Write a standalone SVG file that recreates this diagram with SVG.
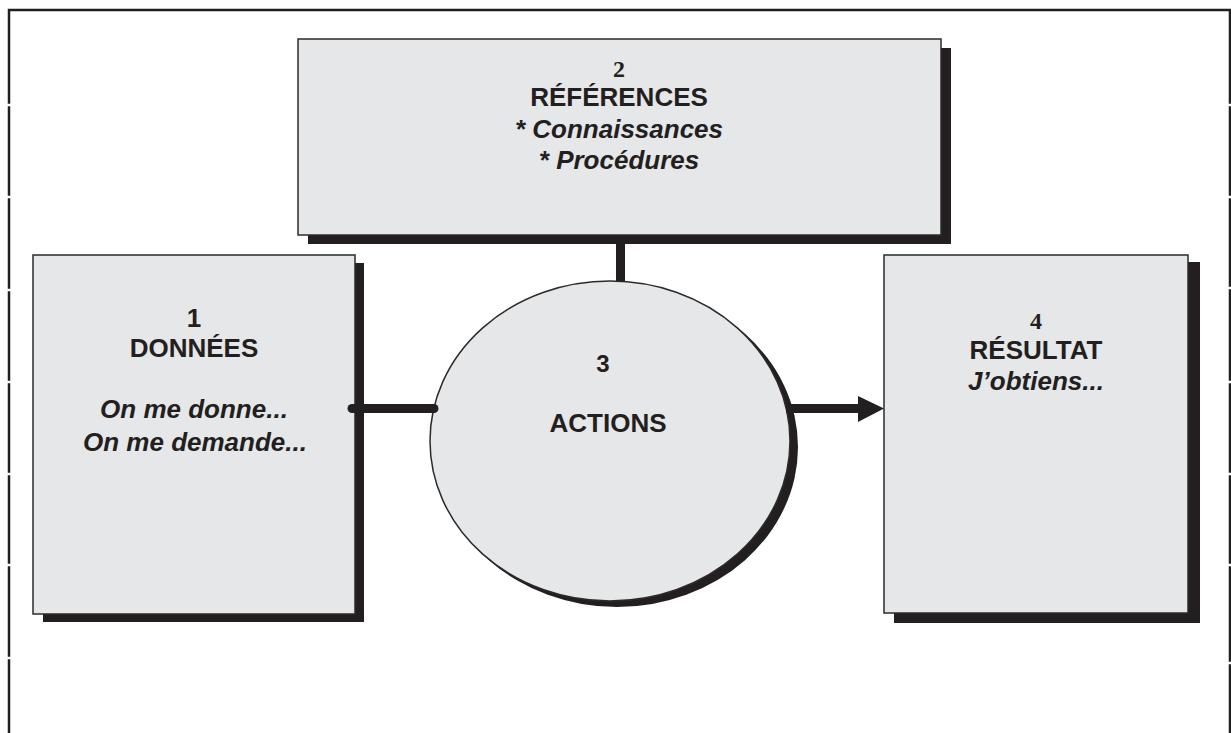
<svg xmlns="http://www.w3.org/2000/svg" width="1231" height="733" viewBox="0 0 1231 733">
<defs>
<style>
.frame{stroke:#231f20;stroke-width:2.5;fill:none}
.shadow{fill:#231f20}
.box{fill:#e6e7e9;stroke:#2b2b2b;stroke-width:1.5}
.conn{stroke:#231f20;stroke-width:9;fill:none}
.t{font-family:"Liberation Sans",Arial,sans-serif;font-weight:bold;fill:#231f20;text-anchor:middle;font-size:26px}
.i{font-style:italic}
.n{font-family:"Liberation Serif","Times New Roman",serif;font-weight:bold;fill:#231f20;text-anchor:middle;font-size:24px}
</style>
</defs>
<rect width="1231" height="733" fill="#ffffff"/>
<g id="frame">
<path class="frame" d="M9,733 V10 H1230 V733"/>
<g stroke="#ffffff" stroke-width="2.5">
<line x1="6" y1="105" x2="12" y2="105"/><line x1="6" y1="197" x2="12" y2="197"/><line x1="6" y1="290" x2="12" y2="290"/><line x1="6" y1="382" x2="12" y2="382"/><line x1="6" y1="474" x2="12" y2="474"/><line x1="6" y1="565" x2="12" y2="565"/><line x1="6" y1="658" x2="12" y2="658"/>
<line x1="1227" y1="105" x2="1231" y2="105"/><line x1="1227" y1="197" x2="1231" y2="197"/><line x1="1227" y1="288" x2="1231" y2="288"/><line x1="1227" y1="382" x2="1231" y2="382"/><line x1="1227" y1="474" x2="1231" y2="474"/><line x1="1227" y1="565" x2="1231" y2="565"/><line x1="1227" y1="663" x2="1231" y2="663"/>
</g>
</g>
<g id="node2">
<rect class="shadow" x="308" y="48" width="643" height="196"/>
<rect class="box" x="298" y="39" width="643" height="196"/>
<text class="n" x="619" y="77">2</text>
<text class="t" x="619" y="106">RÉFÉRENCES</text>
<text class="t i" x="619" y="138">* Connaissances</text>
<text class="t i" x="619" y="169">* Procédures</text>
</g>
<g id="node1">
<rect class="shadow" x="43" y="263" width="321" height="359"/>
<rect class="box" x="33" y="255" width="322" height="359"/>
<text class="t" x="194" y="327">1</text>
<text class="t" x="194" y="357">DONNÉES</text>
<text class="t i" x="194" y="418">On me donne...</text>
<text class="t i" x="195" y="451">On me demande...</text>
</g>
<g id="node3">
<ellipse class="shadow" cx="617" cy="447" rx="181" ry="160"/>
<ellipse class="box" cx="610" cy="441" rx="180" ry="160"/>
<text class="t" x="603" y="372" style="font-size:24px">3</text>
<text class="t" x="608" y="432">ACTIONS</text>
</g>
<g id="node4">
<rect class="shadow" x="894" y="262" width="306" height="361"/>
<rect class="box" x="884" y="255" width="304" height="358"/>
<text class="n" x="1036" y="329">4</text>
<text class="t" x="1036" y="359">RÉSULTAT</text>
<text class="t i" x="1036" y="390">J’obtiens...</text>
</g>
<g id="connectors">
<line class="conn" x1="620.5" y1="244" x2="620.5" y2="281"/>
<line class="conn" x1="352" y1="408.5" x2="434" y2="408.5" stroke-linecap="round"/>
<line class="conn" x1="786" y1="408.5" x2="860" y2="408.5"/>
<polygon points="858,396 884,408.5 858,422" fill="#231f20"/>
</g>
</svg>
